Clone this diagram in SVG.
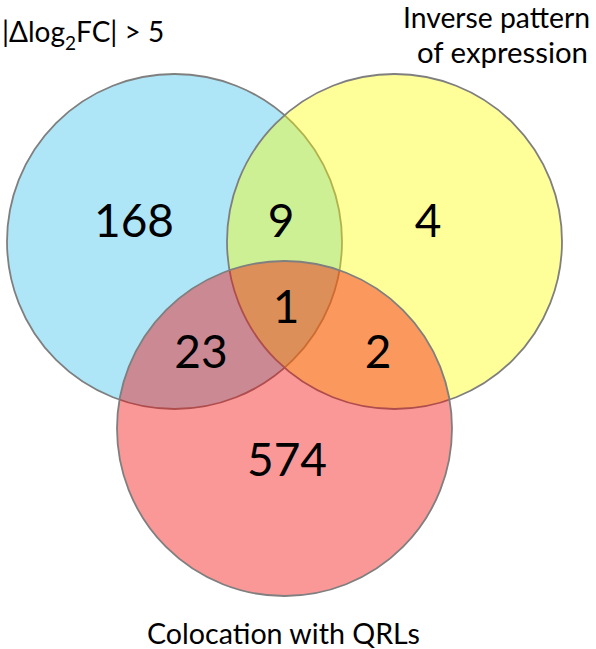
<svg xmlns="http://www.w3.org/2000/svg" width="596" height="649" viewBox="0 0 596 649">
<style>
.set{stroke:#7f7f7f;stroke-width:1.8}
.lab{font-family:Lato,"Open Sans","Liberation Sans",sans-serif;font-size:28px;fill:#000}
.num{font-family:Lato,"Open Sans","Liberation Sans",sans-serif;font-size:46px;fill:#000;text-anchor:middle}
</style>
<rect width="596" height="649" fill="#fff"/>
<g id="set-blue"><circle class="set" cx="174.5" cy="241.5" r="167.5" fill="#aee6f7"/></g>
<g id="set-yellow"><circle class="set" cx="394.5" cy="241.5" r="167.5" fill="#ffff00" fill-opacity="0.4"/></g>
<g id="set-red"><circle class="set" cx="284.5" cy="428.5" r="167.5" fill="#f20a0a" fill-opacity="0.42"/></g>
<g id="connectors"></g>
<g id="labels">
<text class="lab" x="2" y="42">|Δlog<tspan font-size="19" dy="8">2</tspan><tspan dy="-8">FC| &gt; 5</tspan></text>
<text class="lab" x="403" y="28" textLength="187" lengthAdjust="spacingAndGlyphs">Inverse pattern</text>
<text class="lab" x="417" y="63" textLength="171" lengthAdjust="spacingAndGlyphs">of expression</text>
<text class="lab" x="147" y="644" textLength="273" lengthAdjust="spacingAndGlyphs">Colocation with QRLs</text>
</g>
<g id="counts">
<text class="num" x="134" y="237">168</text>
<text class="num" x="281" y="237">9</text>
<text class="num" x="428" y="237">4</text>
<text class="num" x="286" y="323">1</text>
<text class="num" x="201" y="368">23</text>
<text class="num" x="378" y="368">2</text>
<text class="num" x="287" y="476">574</text>
</g>
</svg>
